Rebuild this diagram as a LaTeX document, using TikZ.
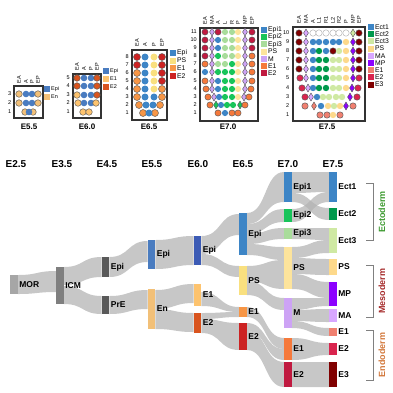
\documentclass[tikz,border=0pt]{standalone}
\usepackage{fontspec}
\setmainfont{Liberation Sans}
\usetikzlibrary{shapes.geometric}
\usetikzlibrary{backgrounds}

\definecolor{cMor}{HTML}{A6A6A6}
\definecolor{cIcm}{HTML}{7F7F7F}
\definecolor{cEpiA}{HTML}{595959}
\definecolor{cEpiB}{HTML}{4A7CC0}
\definecolor{cEn}{HTML}{F2C078}
\definecolor{cEpiC}{HTML}{3C5BB5}
\definecolor{cEoneC}{HTML}{FDC36E}
\definecolor{cEtwoC}{HTML}{D9541E}
\definecolor{cEpiD}{HTML}{3D85C6}
\definecolor{cPsD}{HTML}{F9E07F}
\definecolor{cEoneD}{HTML}{F79646}
\definecolor{cEtwoD}{HTML}{CC2222}
\definecolor{cEpiTwo}{HTML}{18C45A}
\definecolor{cEpiThree}{HTML}{A9DC9B}
\definecolor{cPsE}{HTML}{FDE49C}
\definecolor{cM}{HTML}{CDA3F5}
\definecolor{cEoneE}{HTML}{F5793B}
\definecolor{cEtwoE}{HTML}{C01A40}
\definecolor{cEctTwo}{HTML}{00994C}
\definecolor{cEctThree}{HTML}{CFE9A3}
\definecolor{cPsF}{HTML}{FDD98B}
\definecolor{cMa}{HTML}{D8A7FF}
\definecolor{cMp}{HTML}{8C00FF}
\definecolor{cEoneF}{HTML}{F08070}
\definecolor{cEtwoF}{HTML}{D9254E}
\definecolor{cEthree}{HTML}{800000}
\definecolor{cEcto}{HTML}{3D9A30}
\definecolor{cMeso}{HTML}{A52A2A}
\definecolor{cEndo}{HTML}{D2773A}

\newcommand\dsz{6.6pt}
\newcommand\flow[6]{\fill[flowband] (#1.east |- 0,#2) .. controls +(20,0) and +(-20,0) .. (#4.west |- 0,#5)
  -- (#4.west |- 0,#6) .. controls +(-20,0) and +(20,0) .. (#1.east |- 0,#3) -- cycle;}

\begin{document}
\begin{tikzpicture}[x=1pt,y=-1pt,
    dt/.style = {circle, inner sep=0pt, minimum size=\dsz},
    ol/.style = {draw=black!65, line width=0.45pt},
    epa/.style = {dt, fill=cEpiB}, en/.style = {dt, ol, fill=cEn},
    e1a/.style = {dt, ol, fill=cEoneC}, e2a/.style = {dt, ol, fill=cEtwoC},
    epb/.style = {dt, fill=cEpiD}, psb/.style = {dt, fill=cPsD},
    e1b/.style = {dt, ol, fill=cEoneD}, e2b/.style = {dt, ol, fill=cEtwoD},
    ep2/.style = {dt, fill=cEpiTwo}, ep3/.style = {dt, fill=cEpiThree},
    psc/.style = {dt, fill=cPsE}, e1c/.style = {dt, ol, fill=cEoneE},
    e2c/.style = {dt, ol, fill=cEtwoE}, ec2/.style = {dt, fill=cEctTwo},
    ec3/.style = {dt, fill=cEctThree}, ps7/.style = {dt, fill=cPsF},
    e1d/.style = {dt, ol, fill=cEoneF}, e2d/.style = {dt, ol, fill=cEtwoF},
    e3/.style = {dt, ol, fill=cEthree},
    emp/.style = {dt, draw=black!35, line width=0.4pt, fill=white},
    dm/.style = {diamond, inner sep=0pt, minimum width=5pt, minimum height=8pt, ol},
    md/.style = {dm, fill=cM}, gd/.style = {dm, fill=cEpiTwo},
    ma/.style = {dm, fill=cMa}, mp/.style = {dm, fill=cMp},
    ld/.style = {dm, fill=cEctThree}, sd/.style = {dm, fill=cEoneF},
    frame/.style = {draw=black!80, line width=1.1pt},
    gt/.style = {font=\fontsize{8}{9}\selectfont\bfseries},
    rn/.style = {font=\fontsize{5.5}{6}\selectfont, anchor=east, inner sep=0.5pt},
    cl/.style = {font=\fontsize{5.5}{6}\selectfont, rotate=90, anchor=west, inner sep=0.5pt},
    lg/.style = {rectangle, inner sep=0pt, minimum size=6pt},
    lt/.style = {font=\fontsize{5.5}{6}\selectfont, inner sep=0.8pt},
    ltb/.style = {font=\fontsize{6.8}{7}\selectfont, inner sep=0.8pt},
    stg/.style = {font=\fontsize{10}{12}\selectfont\bfseries},
    bar/.style = {rectangle, inner sep=0pt, minimum width=7.5pt},
    lab/.style = {font=\fontsize{8.5}{10}\selectfont\bfseries, inner sep=1.2pt},
    flowband/.style = {fill=black!30, fill opacity=0.72},
    brk/.style = {draw=black!50, line width=1pt},
    grp/.style = {font=\fontsize{9}{10}\selectfont\bfseries, rotate=90}]
  \useasboundingbox (0,0) rectangle (393,392);

  % E5.5 grid
  \renewcommand\dsz{6.6pt}
  \draw[frame] (14,86) rectangle (43,118);
  \foreach \yy/\row in {94/{19/en,26/epa,32/epa,38/en},103/{19/en,26/epa,32/epa,38/en},
                        112/{25/en,33/en,29/epa}}
    \foreach \xx/\st in \row \node[\st] (g55-\yy-\xx) at (\xx,\yy) {};
  \foreach \n/\yy in {3/94,2/103,1/112} \node[rn] (r55\n) at (12,\yy) {\n};
  \foreach \xx/\t in {19/EA,26/A,32/P,38/EP} \node[cl] (c55\xx) at (\xx,84) {\t};
  \foreach \i/\c/\t in {0/cEpiB/Epi,1/cEn/En}
    \node[lg, fill=\c, label={[lt]right:\t}] (k55\i) at (47,{89+8*\i}) {};
  \node[gt] (t55) at (29,127) {E5.5};

  % E6.0 grid
  \draw[frame] (73,74) rectangle (101,118);
  \foreach \yy/\row in {78/{77/e2a,84/epa,91/epa,97/e2a},86/{77/e2a,84/epa,91/epa,97/e2a},
                        95/{77/e1a,84/epa,91/epa,97/e2a},103/{78/e1a,84/epa,91/epa,96/e1a},
                        112/{83/e1a,89/e1a}}
    \foreach \xx/\st in \row \node[\st] (g60-\yy-\xx) at (\xx,\yy) {};
  \foreach \n/\yy in {5/78,4/86,3/95,2/103,1/112} \node[rn] (r60\n) at (70.5,\yy) {\n};
  \foreach \xx/\t in {77/EA,84/A,91/P,97/EP} \node[cl] (c60\xx) at (\xx,71) {\t};
  \foreach \i/\c/\t in {0/cEpiB/Epi,1/cEoneC/E1,2/cEtwoC/E2}
    \node[lg, fill=\c, label={[lt]right:\t}] (k60\i) at (106,{71+8*\i}) {};
  \node[gt] (t60) at (87,127) {E6.0};

  % E6.5 grid
  \renewcommand\dsz{7pt}
  \draw[frame] (132,50) rectangle (167,120);
  \foreach \yy/\row in {57/{137/e2b,145/epb,154/psb,162/e2b},65/{137/e2b,145/epb,154/psb,162/e2b},
                        73/{137/e1b,145/epb,154/psb,162/e2b},81/{137/e1b,145/epb,154/psb,162/e2b},
                        89/{137/e1b,145/epb,154/psb,162/e1b},97/{137/e1b,145/epb,154/epb,162/e1b},
                        105/{139/e1b,146/epb,153/epb,160/e1b},113/{143/e1b,155/e1b,149/epb}}
    \foreach \xx/\st in \row \node[\st] (g65-\yy-\xx) at (\xx,\yy) {};
  \foreach \n/\yy in {8/57,7/65,6/73,5/81,4/89,3/97,2/105,1/113} \node[rn] (r65\n) at (129.5,\yy) {\n};
  \foreach \xx/\t in {137/EA,145/A,154/P,162/EP} \node[cl] (c65\xx) at (\xx,47) {\t};
  \foreach \i/\c/\t in {0/cEpiD/Epi,1/cPsD/PS,2/cEoneD/E1,3/cEtwoD/E2}
    \node[lg, fill=\c, label={[ltb]right:\t}] (k65\i) at (173,{53+7.6*\i}) {};
  \node[gt] (t65) at (149,127) {E6.5};

  % E7.0 grid
  \renewcommand\dsz{6.2pt}
  \draw[frame] (200,28) rectangle (258,121);
  \foreach \yy/\row in {32/{205/e2c,212/md,218/e2c,225/ep3,232/ep3,238/psc,245/md,252/e2c},
                        40/{205/e2c,212/md,218/epb,225/ep3,232/ep3,238/psc,245/md,252/e2c},
                        48/{205/e2c,212/md,218/epb,225/ep3,232/ep3,238/psc,245/md,252/e2c},
                        56/{205/e2c,212/md,218/ep2,225/ep3,232/ep3,238/psc,245/md,252/e1c},
                        64/{205/e1c,212/md,218/ep3,225/ep3,232/ep2,238/psc,245/md,252/e1c},
                        72/{205/epb,212/md,218/ep2,225/ep2,232/ep2,238/psc,245/md,252/e1c},
                        81/{205/e1c,212/md,218/epb,225/ep2,232/ep2,238/psc,245/md,252/e1c},
                        89/{206/e1c,212/md,218/epb,225/ep2,232/ep2,238/psc,245/md,251/e1c},
                        97/{208/e1c,214/md,219/epb,225/ep2,232/ep2,238/psc,244/md,249/e1c},
                        105/{210/e1c,216/gd,221/epb,227/ep2,233/ep2,240/gd,245/e1c},
                        113/{218/e1c,232/e1c,238/e1c,225/epb}}
    \foreach \xx/\st in \row \node[\st] (g70-\yy-\xx) at (\xx,\yy) {};
  \foreach \n/\yy in {11/32,10/40,9/48,8/56,7/64,6/72,5/81,4/89,3/97,2/105,1/113}
    \node[rn] (r70\n) at (197.5,\yy) {\n};
  \foreach \xx/\t in {205/EA,212/MA,218/A,225/L,232/R,238/P,245/MP,252/EP}
    \node[cl] (c70\xx) at (\xx,25) {\t};
  \foreach \i/\c/\t in {0/cEpiD/Epi1,1/cEpiTwo/Epi2,2/cEpiThree/Epi3,3/cPsE/PS,4/cM/M,5/cEoneE/E1,6/cEtwoE/E2}
    \node[lg, fill=\c, label={[ltb]right:\t}] (k70\i) at (264,{30+7.2*\i}) {};
  \node[gt] (t70) at (228,127) {E7.0};

  % E7.5 grid
  \renewcommand\dsz{6.4pt}
  \draw[frame] (293,27) rectangle (365,121);
  \foreach \yy/\row in {33/{299/e3,306/ma,313/emp,319/emp,326/emp,333/emp,339/emp,346/emp,353/ld,359/e3},
                        42/{299/e3,306/ma,313/epb,319/epb,326/epb,333/epb,339/epb,346/ps7,353/mp,359/e3},
                        51/{299/e3,306/ma,313/epb,319/ec2,326/epb,333/e3,339/ec3,346/ps7,353/mp,359/e3},
                        60/{299/e3,306/ma,313/epb,319/ec2,326/ec2,333/ec3,339/ec3,346/ps7,353/mp,359/e3},
                        69/{299/e3,306/ma,313/epb,319/ec2,326/ec2,333/ec3,339/ec3,346/ps7,353/mp,359/e3},
                        78/{300/e2d,306/ma,313/epb,319/ec2,326/ec2,333/ec3,339/ec3,346/ps7,353/mp,359/e2d},
                        88/{302/e2d,308/ma,313/epb,319/ec2,326/ec2,333/ec3,339/ec3,346/ps7,352/mp,358/e2d},
                        97/{305/e2d,311/ma,317/epb,323/ec3,329/ec3,336/ec3,342/ec3,350/mp,357/e2d},
                        106/{305/e1d,314/sd,321/epb,328/ps7,334/ec3,340/ps7,346/mp,353/e1d},
                        115/{320/e1d,327/e1d,333/ps7,340/e1d}}
    \foreach \xx/\st in \row \node[\st] (g75-\yy-\xx) at (\xx,\yy) {};
  \foreach \n/\yy in {10/33,9/42,8/51,7/60,6/69,5/78,4/88,3/97,2/106,1/115}
    \node[rn] (r75\n) at (290,\yy) {\n};
  \foreach \xx/\t in {299/EA,306/MA,313/A,319/L1,326/R1,333/L2,339/R2,346/P,353/MP,359/EP}
    \node[cl] (c75\xx) at (\xx,24) {\t};
  \foreach \i/\c/\t in {0/cEpiD/Ect1,1/cEctTwo/Ect2,2/cEctThree/Ect3,3/cPsF/PS,4/cMa/MA,5/cMp/MP,
                        6/cEoneF/E1,7/cEtwoF/E2,8/cEthree/E3}
    \node[lg, fill=\c, label={[ltb]right:\t}] (k75\i) at (371,{27+7.2*\i}) {};
  \node[gt] (t75) at (327,127) {E7.5};

  % stages
  \foreach \xx/\t in {16/E2.5,62/E3.5,107/E4.5,152/E5.5,198/E6.0,243/E6.5,288/E7.0,333/E7.5}
    \node[stg] (s\xx) at (\xx,164) {\t};

  % sankey bars
  \node[bar, fill=cMor, minimum height=19pt, label={[lab]right:MOR}] (mor) at (14,284.5) {};
  \node[bar, fill=cIcm, minimum height=37pt, label={[lab]right:ICM}] (icm) at (60,285.5) {};
  \node[bar, fill=cEpiA, minimum height=20pt, label={[lab]right:Epi}] (epiA) at (105.5,267) {};
  \node[bar, fill=cEpiA, minimum height=18pt, label={[lab]right:PrE}] (pre) at (105.5,305) {};
  \node[bar, fill=cEpiB, minimum height=29pt, label={[lab]right:Epi}] (epiB) at (151.5,254.5) {};
  \node[bar, fill=cEn, minimum height=40pt, label={[lab]right:En}] (en) at (151.5,309) {};
  \node[bar, fill=cEpiC, minimum height=29pt, label={[lab]right:Epi}] (epiC) at (197.5,250.5) {};
  \node[bar, fill=cEoneC, minimum height=22pt, label={[lab]right:E1}] (e1C) at (197.5,295) {};
  \node[bar, fill=cEtwoC, minimum height=20pt, label={[lab]right:E2}] (e2C) at (197.5,323) {};
  \node[bar, fill=cEpiD, minimum height=42pt, label={[lab]right:Epi}] (epiD) at (243,234) {};
  \node[bar, fill=cPsD, minimum height=29pt, label={[lab]right:PS}] (psD) at (243,280.5) {};
  \node[bar, fill=cEoneD, minimum height=10pt, label={[lab]right:E1}] (e1D) at (243,312) {};
  \node[bar, fill=cEtwoD, minimum height=27pt, label={[lab]right:E2}] (e2D) at (243,336.5) {};
  \node[bar, fill=cEpiD, minimum height=30pt, label={[lab]right:Epi1}] (epi1) at (288,187) {};
  \node[bar, fill=cEpiTwo, minimum height=13pt, label={[lab]right:Epi2}] (epi2) at (288,215.5) {};
  \node[bar, fill=cEpiThree, minimum height=11pt, label={[lab]right:Epi3}] (epi3) at (288,233.5) {};
  \node[bar, fill=cPsE, minimum height=42pt, label={[lab]right:PS}] (psE) at (288,268) {};
  \node[bar, fill=cM, minimum height=30pt, label={[lab]right:M}] (mE) at (288,313) {};
  \node[bar, fill=cEoneE, minimum height=22pt, label={[lab]right:E1}] (e1E) at (288,349) {};
  \node[bar, fill=cEtwoE, minimum height=25pt, label={[lab]right:E2}] (e2E) at (288,374.5) {};
  \node[bar, fill=cEpiD, minimum height=30pt, label={[lab]right:Ect1}] (ect1) at (333,187) {};
  \node[bar, fill=cEctTwo, minimum height=12pt, label={[lab]right:Ect2}] (ect2) at (333,214) {};
  \node[bar, fill=cEctThree, minimum height=25pt, label={[lab]right:Ect3}] (ect3) at (333,240.5) {};
  \node[bar, fill=cPsF, minimum height=16pt, label={[lab]right:PS}] (psF) at (333,267) {};
  \node[bar, fill=cMp, minimum height=24pt, label={[lab]right:MP}] (mp) at (333,294) {};
  \node[bar, fill=cMa, minimum height=13pt, label={[lab]right:MA}] (ma) at (333,315.5) {};
  \node[bar, fill=cEoneF, minimum height=8pt, label={[lab]right:E1}] (e1F) at (333,332) {};
  \node[bar, fill=cEtwoF, minimum height=12pt, label={[lab]right:E2}] (e2F) at (333,349) {};
  \node[bar, fill=cEthree, minimum height=25pt, label={[lab]right:E3}] (e3F) at (333,374.5) {};

  % flows, behind the bars and their labels
  \begin{pgfonlayer}{background}
  \flow{mor}{275}{294}{icm}{271}{292}
  \flow{icm}{267}{285}{epiA}{257}{277}
  \flow{icm}{286}{304}{pre}{296}{314}
  \flow{epiA}{257}{277}{epiB}{241}{262}
  \flow{pre}{296}{314}{en}{290}{309}
  \flow{epiB}{240}{269}{epiC}{236}{265}
  \flow{en}{290}{309}{e1C}{284}{303}
  \flow{en}{309}{329}{e2C}{313}{332}
  \flow{epiC}{236}{254}{epiD}{214}{235}
  \flow{epiC}{254}{265}{psD}{266}{277}
  \flow{e1C}{292}{306}{e1D}{307}{312}
  \flow{e2C}{313}{319}{e1D}{312}{317}
  \flow{e2C}{319}{333}{e2D}{323}{350}
  \flow{epiD}{213}{224}{epi1}{172}{202}
  \flow{epiD}{224}{234}{epi2}{209}{222}
  \flow{epiD}{234}{244}{epi3}{228}{239}
  \flow{epiD}{244}{255}{psE}{247}{260}
  \flow{psD}{266}{281}{psE}{260}{289}
  \flow{psD}{281}{295}{mE}{298}{310}
  \flow{e1D}{307}{317}{e1E}{338}{349}
  \flow{e2D}{323}{331}{e1E}{349}{360}
  \flow{e2D}{331}{350}{e2E}{362}{387}
  \flow{epi1}{172}{193}{ect1}{172}{192}
  \flow{epi1}{193}{202}{ect2}{208}{220}
  \flow{epi2}{209}{222}{ect1}{192}{202}
  \flow{epi3}{228}{239}{ect3}{228}{240}
  \flow{psE}{247}{258}{ect3}{240}{253}
  \flow{psE}{258}{274}{psF}{259}{275}
  \flow{psE}{274}{289}{mp}{282}{298}
  \flow{mE}{298}{310}{mp}{298}{306}
  \flow{mE}{310}{321}{ma}{309}{322}
  \flow{mE}{321}{328}{e1F}{328}{336}
  \flow{e1E}{338}{360}{e2F}{343}{355}
  \flow{e2E}{362}{387}{e3F}{362}{387}
  \end{pgfonlayer}

  % germ layers
  \draw[brk] (366,183) -- (373,183) -- (373,240) -- (366,240);
  \draw[brk] (366,265) -- (373,265) -- (373,317) -- (366,317);
  \draw[brk] (366,330) -- (373,330) -- (373,380) -- (366,380);
  \node[grp, text=cEcto] (ecto) at (382,212) {Ectoderm};
  \node[grp, text=cMeso] (meso) at (382,291) {Mesoderm};
  \node[grp, text=cEndo] (endo) at (382,355) {Endoderm};
\end{tikzpicture}
\end{document}
